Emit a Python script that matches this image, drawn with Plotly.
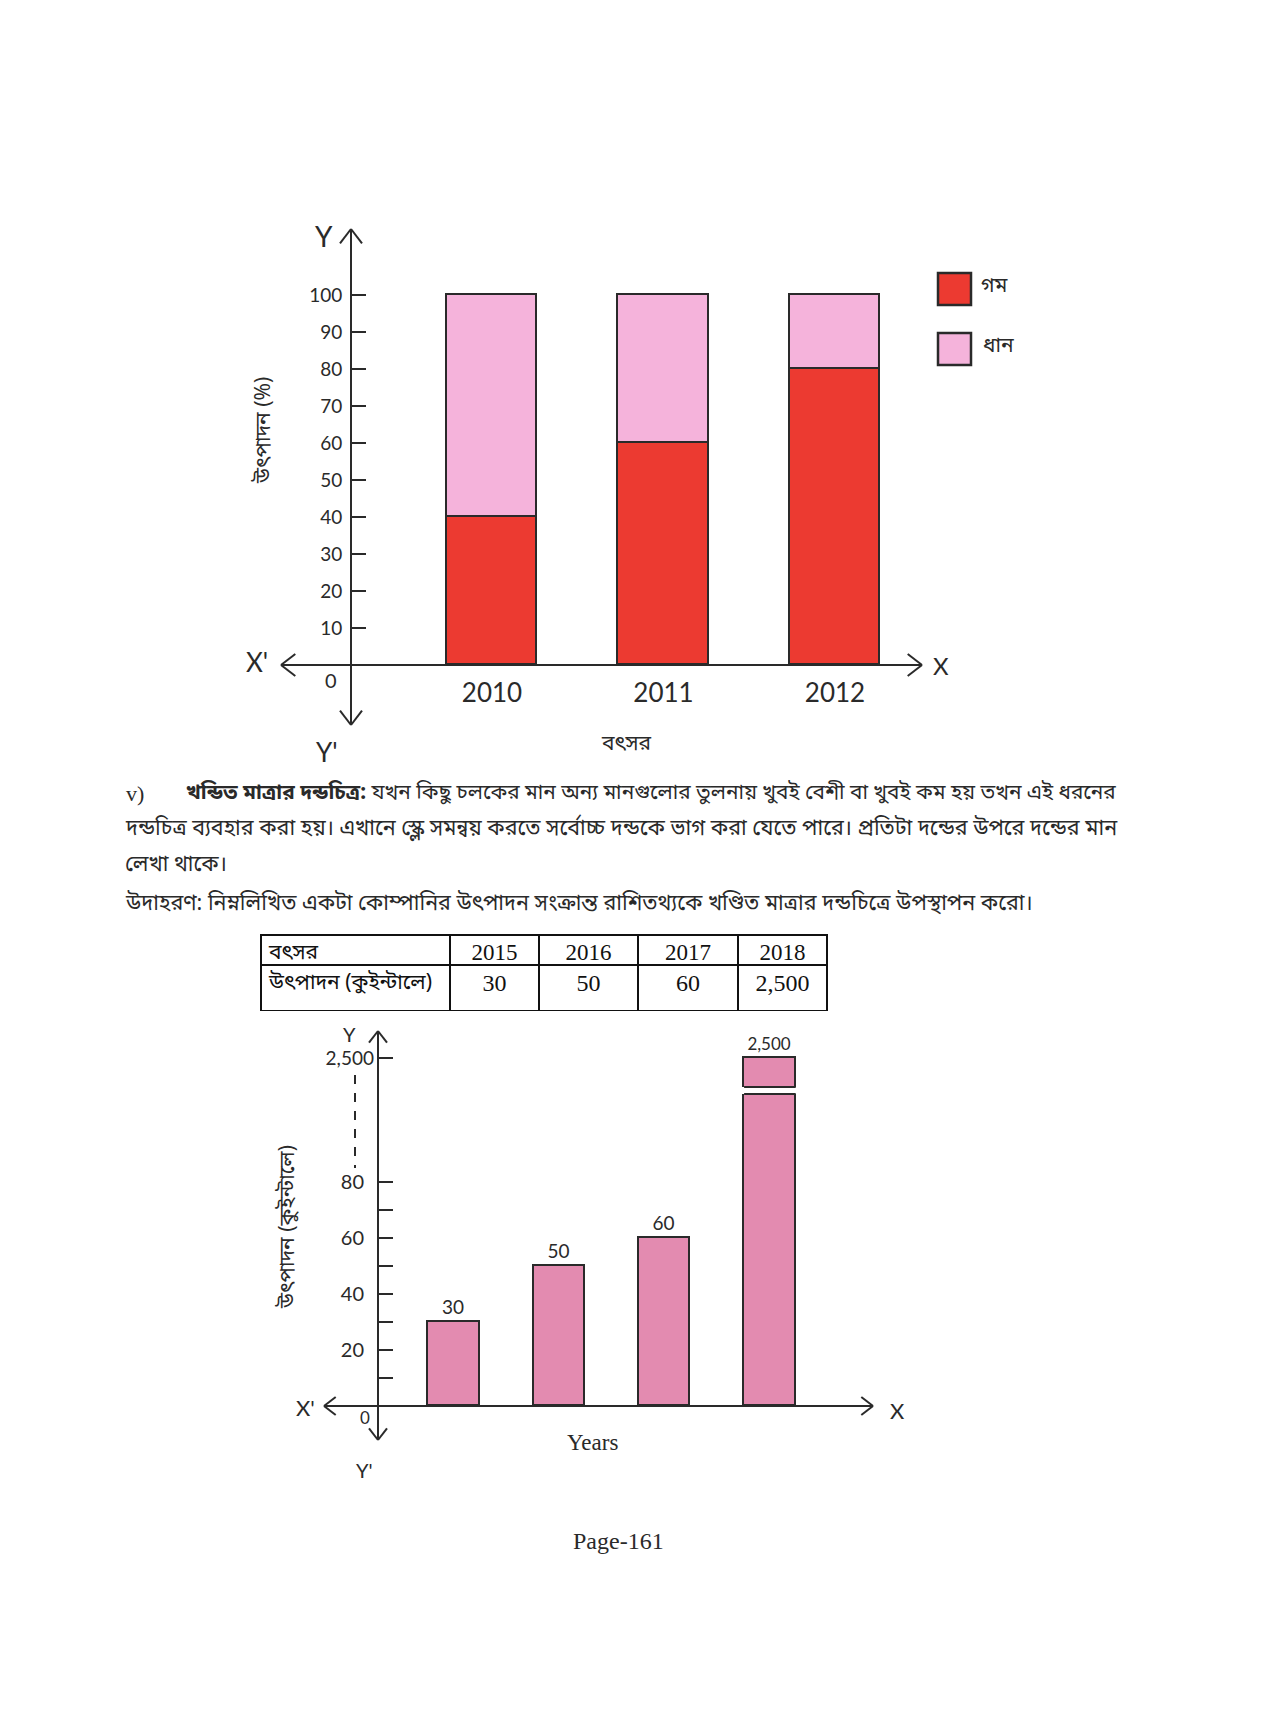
import plotly.graph_objects as go

# The page body keeps the browser's default 8px margin, so the figure is drawn
# 8px smaller than the window and all page positions are offset by 8px.
PAGE_W, PAGE_H = 1275, 1710
OFF = 8
W, H = PAGE_W - 2 * OFF, PAGE_H - 2 * OFF

# ---------------- data ----------------
# Chart 1 (stacked percentage bar)
years1 = [2010, 2011, 2012]
year1_labels = ["2010", "2011", "2012"]
wheat_pct = [40, 60, 80]      # গম
paddy_pct = [60, 40, 20]      # ধান
series_names = ["গম", "ধান"]
y1_tickvals = [10, 20, 30, 40, 50, 60, 70, 80, 90, 100]
y1_ticktext = ["10", "20", "30", "40", "50", "60", "70", "80", "90", "100"]

# Table + Chart 2 (broken-scale bar)
years2 = [2015, 2016, 2017, 2018]
year2_labels = ["2015", "2016", "2017", "2018"]
production = [30, 50, 60, 2500]
production_labels = ["30", "50", "60", "2,500"]
y2_tickvals = [10, 20, 30, 40, 50, 60, 70, 80]
y2_ticktext = ["", "20", "", "40", "", "60", "", "80"]
y3_tickvals = [2500]
y3_ticktext = ["2,500"]

# ---------------- style ----------------
RED = "#EC3A31"
PINK = "#F5B3DB"
MAUVE = "#E38BB0"
INK = "#2a2a2a"
HAND = "Lato, DejaVu Sans, sans-serif"
BN = "Noto Sans Bengali, Noto Sans, sans-serif"
SERIF = "Liberation Serif, Times New Roman, serif"


def fx(p):
    return (p - OFF) / W


def fy(p):
    return 1 - (p - OFF) / H


fig = go.Figure()

# ---------------- chart 1 ----------------
bw1 = 0.53
fig.add_trace(go.Bar(x=years1, y=wheat_pct, name=series_names[0], width=bw1,
                     marker=dict(color=RED, line=dict(color=INK, width=1.8)),
                     xaxis="x", yaxis="y", showlegend=False))
fig.add_trace(go.Bar(x=years1, y=paddy_pct, name=series_names[1], width=bw1,
                     marker=dict(color=PINK, line=dict(color=INK, width=1.8)),
                     xaxis="x", yaxis="y", showlegend=False))

# page-pixel geometry of chart 1
c1_left, c1_right = 281, 922
c1_top, c1_bot = 229, 725
c1_base = 665
c1_yaxis_px = 351
ppu1_x = 171.5
ppu1_y = 3.70
c1_first_center = 492

fig.update_layout(
    xaxis=dict(domain=[fx(c1_left), fx(c1_right)],
               range=[years1[0] - (c1_first_center - c1_left) / ppu1_x,
                      years1[0] + (c1_right - c1_first_center) / ppu1_x],
               anchor="free", position=fy(c1_base),
               tickvals=years1, ticktext=year1_labels, ticks="",
               showline=False, showgrid=False, zeroline=False,
               tickfont=dict(family=HAND, size=26, color=INK),
               ticklabelstandoff=10),
    yaxis=dict(domain=[fy(c1_bot), fy(c1_top)],
               range=[-(c1_bot - c1_base) / ppu1_y, (c1_base - c1_top) / ppu1_y],
               anchor="free", position=fx(c1_yaxis_px),
               tickvals=y1_tickvals, ticktext=y1_ticktext,
               ticks="inside", ticklen=14, tickwidth=2, tickcolor=INK,
               showline=True, linecolor=INK, linewidth=2,
               showgrid=False, zeroline=True, zerolinecolor=INK, zerolinewidth=2,
               tickfont=dict(family=HAND, size=19, color=INK),
               ticklabelstandoff=4),
)

# ---------------- chart 2 ----------------
bw2 = 0.49
c2_left, c2_right = 324, 873
c2_top, c2_bot = 1031, 1440
c2_base = 1406
c2_yaxis_px = 378
ppu2_x = 105.3
ppu2_y = 2.8
c2_first_center = 454
c2_break_low = 1094    # top of lower panel
c2_break_high = 1087   # bottom of upper panel
c2_top_val_px = 1058   # pixel of 2,500 level
c2_upper_top = 1016

fig.add_trace(go.Bar(x=years2, y=production, width=bw2,
                     text=production_labels[:3] + [""], textposition="outside",
                     textfont=dict(family=HAND, size=19, color=INK),
                     marker=dict(color=MAUVE, line=dict(color=INK, width=1.8)),
                     xaxis="x2", yaxis="y2", showlegend=False))
fig.add_trace(go.Bar(x=years2, y=production, width=bw2,
                     text=["", "", "", production_labels[3]], textposition="outside",
                     textfont=dict(family=HAND, size=17, color=INK),
                     marker=dict(color=MAUVE, line=dict(color=INK, width=1.8)),
                     xaxis="x2", yaxis="y3", showlegend=False))

fig.update_layout(
    xaxis2=dict(domain=[fx(c2_left), fx(c2_right)],
                range=[years2[0] - (c2_first_center - c2_left) / ppu2_x,
                       years2[0] + (c2_right - c2_first_center) / ppu2_x],
                anchor="free", position=fy(c2_base),
                showticklabels=False, ticks="", showline=False,
                showgrid=False, zeroline=False),
    yaxis2=dict(domain=[fy(c2_bot), fy(c2_break_low)],
                range=[-(c2_bot - c2_base) / ppu2_y, (c2_base - c2_break_low) / ppu2_y],
                anchor="free", position=fx(c2_yaxis_px),
                tickvals=y2_tickvals, ticktext=y2_ticktext,
                ticks="inside", ticklen=14, tickwidth=2, tickcolor=INK,
                showline=False, showgrid=False,
                zeroline=True, zerolinecolor=INK, zerolinewidth=2,
                tickfont=dict(family=HAND, size=20, color=INK),
                ticklabelstandoff=14),
    yaxis3=dict(domain=[fy(c2_break_high), fy(c2_upper_top)],
                range=[production[3] - (c2_break_high - c2_top_val_px) / ppu2_y,
                       production[3] + (c2_top_val_px - c2_upper_top) / ppu2_y],
                anchor="free", position=fx(c2_yaxis_px),
                tickvals=y3_tickvals, ticktext=y3_ticktext,
                ticks="inside", ticklen=14, tickwidth=2, tickcolor=INK,
                showline=False, showgrid=False, zeroline=False,
                tickfont=dict(family=HAND, size=19, color=INK),
                ticklabelstandoff=4),
)

# ---------------- table ----------------
fig.add_trace(go.Table(
    domain=dict(x=[fx(261), fx(827)], y=[fy(1011), fy(935)]),
    columnwidth=[189, 89, 99, 100, 89],
    header=dict(values=["বৎসর"] + year2_labels,
                height=30,
                align=["left", "center", "center", "center", "center"],
                font=dict(family=[BN, SERIF, SERIF, SERIF, SERIF], size=[21, 23, 23, 23, 23],
                          color="#111"),
                line=dict(color="#111", width=2), fill=dict(color="white")),
    cells=dict(values=[["উৎপাদন (কুইন্টালে)"]] + [[s] for s in production_labels],
               height=46,
               align=["left", "center", "center", "center", "center"],
               font=dict(family=[BN, SERIF, SERIF, SERIF, SERIF], size=[21, 24, 24, 24, 24],
                         color="#111"),
               line=dict(color="#111", width=2), fill=dict(color="white")),
))

# ---------------- decorations (axis arrows, labels) ----------------
shapes = []


def line(x0, y0, x1, y1, width=2, dash=None):
    d = dict(type="line", xref="paper", yref="paper",
             x0=fx(x0), x1=fx(x1), y0=fy(y0), y1=fy(y1),
             line=dict(color=INK, width=width))
    if dash:
        d["line"]["dash"] = dash
    shapes.append(d)


def chevron(tx, ty, direction, s=11):
    if direction == "up":
        pts = [(tx - s, ty + s * 1.3), (tx, ty), (tx + s, ty + s * 1.3)]
    elif direction == "down":
        pts = [(tx - s, ty - s * 1.3), (tx, ty), (tx + s, ty - s * 1.3)]
    elif direction == "left":
        pts = [(tx + s * 1.3, ty - s), (tx, ty), (tx + s * 1.3, ty + s)]
    else:
        pts = [(tx - s * 1.3, ty - s), (tx, ty), (tx - s * 1.3, ty + s)]
    for (a, b), (c, d) in zip(pts[:-1], pts[1:]):
        line(a, b, c, d, width=2)


# chart 1 arrows
chevron(c1_yaxis_px, c1_top, "up")
chevron(c1_yaxis_px, c1_bot, "down")
chevron(c1_left, c1_base, "left")
chevron(c1_right, c1_base, "right")

# chart 2 axis line + arrows
line(c2_yaxis_px, c2_top, c2_yaxis_px, c2_bot, width=2)
chevron(c2_yaxis_px, c2_top, "up", s=9)
chevron(c2_yaxis_px, c2_bot, "down", s=9)
chevron(c2_left, c2_base, "left", s=9)
chevron(c2_right, c2_base, "right", s=9)
# break indicator in label column
line(355, 1075, 355, 1168, width=2, dash="dash")
# break edges of the tallest bar
for ypx in (c2_break_high, c2_break_low):
    shapes.append(dict(type="line", xref="x2", yref="paper",
                       x0=years2[3] - bw2 / 2, x1=years2[3] + bw2 / 2,
                       y0=fy(ypx), y1=fy(ypx), line=dict(color=INK, width=1.8)))

# legend boxes
leg_colors = [RED, PINK]
leg_y = [(273, 305), (333, 365)]
for col, (t, b) in zip(leg_colors, leg_y):
    shapes.append(dict(type="rect", xref="paper", yref="paper",
                       x0=fx(938), x1=fx(971), y0=fy(b), y1=fy(t),
                       fillcolor=col, line=dict(color=INK, width=2.5)))

ann = []


def text(x, y, s, size=18, family=HAND, xanchor="center", angle=0, color=INK):
    ann.append(dict(x=fx(x), y=fy(y), xref="paper", yref="paper", text=s,
                    showarrow=False, xanchor=xanchor, yanchor="middle",
                    textangle=angle, font=dict(family=family, size=size, color=color)))


# chart 1 labels
text(324, 236, "Y", size=28)
text(327, 752, "Y'", size=26)
text(257, 662, "X'", size=26)
text(941, 665, "X", size=24)
text(331, 680, "0", size=20)
text(265, 431, "উৎপাদন (%)", size=21, family=BN, angle=-90)
text(626, 745, "বৎসর", size=21, family=BN)
text(979, 287, series_names[0], size=21, family=BN, xanchor="left")
text(981, 347, series_names[1], size=21, family=BN, xanchor="left")

# paragraph
text(124, 793, "v)", size=22, family=SERIF, xanchor="left")
text(184, 793, "<b>খন্ডিত মাত্রার দন্ডচিত্র:</b> যখন কিছু চলকের মান অন্য মানগুলোর তুলনায় খুবই বেশী বা খুবই কম হয় তখন এই ধরনের",
     size=20.8, family=BN, xanchor="left")
text(123, 829, "দন্ডচিত্র ব্যবহার করা হয়। এখানে স্কেল সমন্বয় করতে সর্বোচ্চ দন্ডকে ভাগ করা যেতে পারে। প্রতিটা দন্ডের উপরে দন্ডের মান",
     size=21.5, family=BN, xanchor="left")
text(123, 865, "লেখা থাকে।", size=21.5, family=BN, xanchor="left")
text(123, 905, "উদাহরণ: নিম্নলিখিত একটা কোম্পানির উৎপাদন সংক্রান্ত রাশিতথ্যকে খণ্ডিত মাত্রার দন্ডচিত্রে উপস্থাপন করো।",
     size=21.5, family=BN, xanchor="left")

# chart 2 labels
text(350, 1034, "Y", size=20)
text(364, 1470, "Y'", size=20)
text(305, 1407, "X'", size=22)
text(898, 1410, "X", size=22)
text(365, 1417, "0", size=17)
text(289, 1227, "উৎপাদন (কুইন্টালে)", size=21, family=BN, angle=-90)
text(592, 1442, "Years", size=23, family=SERIF)
text(618, 1541, "Page-161", size=24, family=SERIF)

fig.update_layout(
    width=W, height=H,
    margin=dict(l=0, r=0, t=0, b=0),
    paper_bgcolor="white", plot_bgcolor="rgba(0,0,0,0)",
    barmode="stack", bargap=0,
    shapes=shapes, annotations=ann,
)

fig.write_html("out.html")
